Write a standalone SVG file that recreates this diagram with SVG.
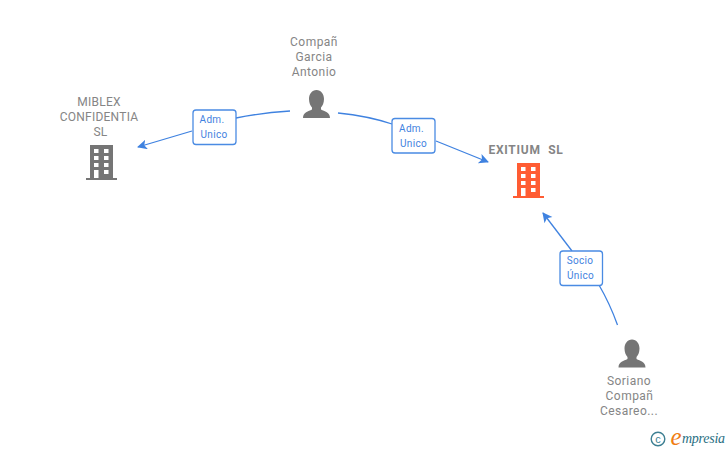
<svg xmlns="http://www.w3.org/2000/svg" width="728" height="450" viewBox="0 0 728 450">
<style>
.n{font-family:Roboto,"Liberation Sans",sans-serif;font-size:12px;fill:#858585;text-anchor:middle;letter-spacing:.45px}
.u{letter-spacing:.25px}
.c{fill:none;stroke:#3f82e0;stroke-width:1.3}
.b{fill:#fff;stroke:#4a8be3;stroke-width:1.3}
.l{font-family:Roboto,"Liberation Sans",sans-serif;font-size:10px;fill:#3f82e0;text-anchor:middle;letter-spacing:.3px}
</style>
<defs>
<marker id="a" markerWidth="12" markerHeight="12" refX="9" refY="5" orient="auto" markerUnits="userSpaceOnUse"><path d="M0 0L10 5L0 10L2.500 5Z" fill="#3f82e0"/></marker>
<g id="bld"><path d="M-26 35V33H-22V0H1V33H5V35Z"/><g fill="#fff"><rect x="-18" y="4" width="4.500" height="4"/><rect x="-8" y="4" width="4.500" height="4"/><rect x="-18" y="11" width="4.500" height="4"/><rect x="-8" y="11" width="4.500" height="4"/><rect x="-18" y="18" width="4.500" height="4"/><rect x="-8" y="18" width="4.500" height="4"/><rect x="-18" y="25" width="4.500" height="8"/><rect x="-8" y="25" width="4.500" height="4"/></g></g>
<path id="p" d="M0 0C4.500 0 7.500 4 7.500 9C7.500 13 6 16 4.500 17.500V19.500C8 21.500 13.500 22 13.500 28H-13.500C-13.500 22 -8 21.500 -4.500 19.500V17.500C-6 16 -7.500 13 -7.500 9C-7.500 4 -4.500 0 0 0Z"/>
</defs>
<g id="connectors">
<path class="c" d="M290 111Q260 113 236 118"/>
<path class="c" d="M192 131L138 147" marker-end="url(#a)"/>
<path class="c" d="M338 113Q368 116 392 124"/>
<path class="c" d="M436 141L488 162" marker-end="url(#a)"/>
<path class="c" d="M617.500 325Q610 304 599 285"/>
<path class="c" d="M572 251L543 213" marker-end="url(#a)"/>
<rect class="b" x="193" y="110" width="43" height="34.500" rx="3"/>
<text class="l" x="212" y="123">Adm.</text><text class="l" x="214" y="138">Unico</text>
<rect class="b" x="392" y="118.500" width="43" height="34.500" rx="3"/>
<text class="l" x="411.500" y="132">Adm.</text><text class="l" x="413.500" y="147">Unico</text>
<rect class="b" x="560" y="251" width="42.500" height="34.500" rx="3"/>
<text class="l" x="580" y="264">Socio</text><text class="l" x="580.500" y="279">Único</text>
</g>
<g id="miblex"><text class="n u" x="99" y="106">MIBLEX</text><text class="n u" x="99" y="121">CONFIDENTIA</text><text class="n u" x="100.500" y="136">SL</text><use href="#bld" x="112" y="145" fill="#757575"/></g>
<g id="compan"><text class="n" x="314" y="46">Compañ</text><text class="n" x="314" y="61">Garcia</text><text class="n" x="314" y="76">Antonio</text><use href="#p" x="316.500" y="90" fill="#757575"/></g>
<g id="exitium"><text class="n" x="526" y="154" style="font-weight:700;letter-spacing:.75px" xml:space="preserve">EXITIUM  SL</text><use href="#bld" x="539" y="163" fill="#ff5c33"/></g>
<g id="soriano"><use href="#p" x="632" y="339.500" fill="#757575"/><text class="n" x="629" y="385">Soriano</text><text class="n" x="629.500" y="400">Compañ</text><text class="n" x="629" y="415">Cesareo...</text></g>
<g id="logo"><circle cx="658" cy="439" r="6.800" fill="none" stroke="#3d7f92" stroke-width="1.400"/><text x="658" y="443" font-family="Liberation Sans,sans-serif" font-size="11" fill="#3d7f92" text-anchor="middle">c</text><text x="670.500" y="445" font-family="Liberation Serif,serif" font-style="italic" font-size="25" fill="#f07d13">e</text><text x="682" y="443" font-family="Liberation Serif,serif" font-style="italic" font-size="14" fill="#2a6f83" textLength="43">mpresia</text></g>
</svg>
